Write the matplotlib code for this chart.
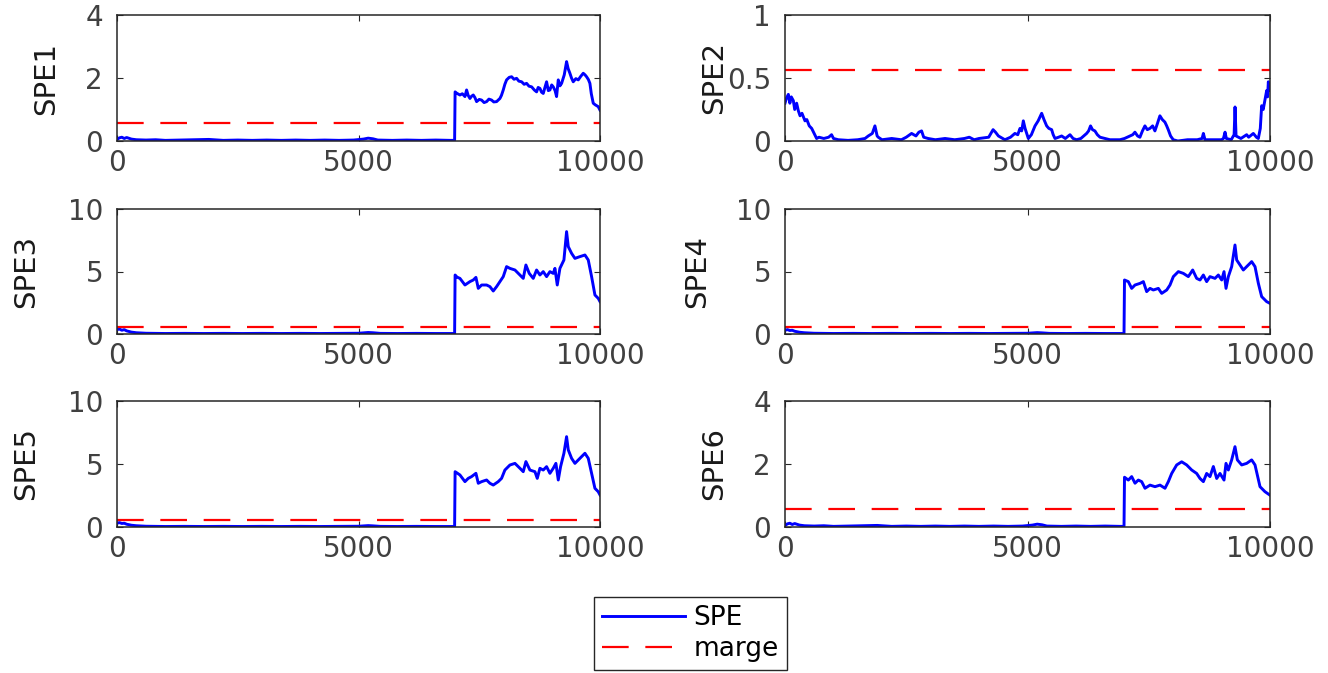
import numpy as np
import matplotlib
matplotlib.use('Agg')
import matplotlib.pyplot as plt

# SPE curves, (sample index, value)
spe1_t = [0, 50, 100, 150, 200, 300, 400, 600, 800, 1000, 1300, 1600, 1900, 2200, 2500, 2800,
          3100, 3400, 3700, 4000, 4300, 4600, 4900, 5100, 5200, 5300, 5400, 5700, 6000, 6300,
          6600, 6900, 6990,
          7000, 7030, 7100, 7150, 7204, 7238, 7270, 7307, 7340, 7376, 7410, 7445, 7500, 7548,
          7600, 7652, 7700, 7755, 7800, 7859, 7900, 7928, 7960, 7997, 8030, 8066, 8120, 8170,
          8220, 8273, 8320, 8377, 8430, 8480, 8530, 8584, 8640, 8687, 8720, 8756, 8790, 8825,
          8860, 8894, 8930, 8963, 9000, 9032, 9070, 9101, 9136, 9170, 9205, 9260, 9308, 9340,
          9377, 9410, 9446, 9500, 9550, 9600, 9653, 9690, 9722, 9760, 9791, 9820, 9860, 9900,
          9964, 10000]
spe1_v = [0.05, 0.10, 0.12, 0.08, 0.11, 0.06, 0.04, 0.03, 0.04, 0.02, 0.03, 0.04, 0.05, 0.02,
          0.03, 0.02, 0.03, 0.02, 0.03, 0.02, 0.03, 0.02, 0.03, 0.06, 0.09, 0.07, 0.03, 0.02,
          0.03, 0.02, 0.03, 0.02, 0.02,
          1.56, 1.52, 1.46, 1.50, 1.41, 1.62, 1.45, 1.35, 1.42, 1.46, 1.38, 1.25, 1.32, 1.30,
          1.22, 1.25, 1.33, 1.30, 1.24, 1.25, 1.31, 1.35, 1.45, 1.62, 1.80, 1.94, 2.02, 2.04,
          1.96, 1.99, 1.90, 1.88, 1.80, 1.83, 1.74, 1.72, 1.62, 1.56, 1.70, 1.67, 1.55, 1.51,
          1.70, 1.88, 1.60, 1.62, 1.78, 1.72, 1.60, 1.41, 1.94, 1.75, 1.83, 2.10, 2.52, 2.30,
          2.15, 2.00, 1.88, 1.98, 1.94, 2.05, 2.15, 2.10, 2.04, 1.95, 1.83, 1.50, 1.20, 1.15,
          1.09, 0.98]

spe2_t = [0, 30, 69, 100, 130, 172, 200, 240, 275, 310, 350, 412, 450, 500, 550, 600, 652,
          700, 800, 900, 960, 1000, 1100, 1300, 1500, 1650, 1717, 1800, 1854, 1900, 1923, 2000,
          2200, 2400, 2500, 2610, 2700, 2760, 2816, 2860, 2950, 3100, 3300, 3500, 3700, 3800,
          3900, 4000, 4200, 4290, 4340, 4400, 4534, 4650, 4740, 4800, 4845, 4880, 4914, 4950,
          5017, 5080, 5155, 5220, 5292, 5340, 5395, 5440, 5498, 5530, 5567, 5640, 5704, 5780,
          5876, 5940, 6013, 6100, 6219, 6260, 6300, 6340, 6390, 6440, 6495, 6600, 6700, 6906,
          7000, 7112, 7170, 7215, 7270, 7318, 7370, 7421, 7470, 7524, 7580, 7627, 7680, 7730,
          7780, 7833, 7870, 7902, 7950, 8005, 8100, 8300, 8500, 8600, 8626, 8660, 8800, 9000,
          9040, 9073, 9100, 9200, 9260, 9279, 9300, 9400, 9519, 9560, 9656, 9720, 9759, 9800,
          9828, 9860, 9897, 9931, 9950, 9966, 9985, 10000]
spe2_v = [0.30, 0.34, 0.37, 0.30, 0.35, 0.32, 0.25, 0.30, 0.24, 0.20, 0.22, 0.16, 0.17, 0.12,
          0.10, 0.06, 0.02, 0.03, 0.02, 0.03, 0.05, 0.02, 0.01, 0.005, 0.01, 0.02, 0.04, 0.06,
          0.12, 0.04, 0.03, 0.01, 0.02, 0.01, 0.03, 0.06, 0.04, 0.07, 0.08, 0.03, 0.02, 0.01,
          0.02, 0.01, 0.02, 0.03, 0.01, 0.02, 0.03, 0.09, 0.07, 0.04, 0.01, 0.03, 0.06, 0.05,
          0.10, 0.08, 0.16, 0.10, 0.02, 0.05, 0.12, 0.16, 0.22, 0.17, 0.12, 0.10, 0.09, 0.05,
          0.02, 0.03, 0.04, 0.02, 0.05, 0.02, 0.01, 0.02, 0.06, 0.08, 0.12, 0.09, 0.08, 0.05,
          0.03, 0.02, 0.01, 0.01, 0.02, 0.04, 0.05, 0.07, 0.04, 0.03, 0.08, 0.12, 0.09, 0.10,
          0.12, 0.08, 0.14, 0.20, 0.17, 0.15, 0.12, 0.09, 0.04, 0.01, 0.00, 0.01, 0.01, 0.02,
          0.06, 0.01, 0.01, 0.01, 0.02, 0.07, 0.02, 0.01, 0.05, 0.27, 0.04, 0.02, 0.05, 0.03,
          0.06, 0.03, 0.02, 0.10, 0.28, 0.25, 0.33, 0.40, 0.35, 0.47, 0.40, 0.45]

spe3_t = [0, 50, 100, 150, 200, 300, 400, 600, 800, 1000, 1400, 1800, 2200, 2600, 3000, 3400,
          3800, 4200, 4600, 5000, 5200, 5300, 5450, 5800, 6200, 6600, 6990,
          7000, 7040, 7100, 7204, 7307, 7376, 7431, 7480, 7549, 7652, 7721, 7790, 7859, 7928,
          7997, 8066, 8135, 8239, 8342, 8411, 8466, 8535, 8618, 8687, 8756, 8825, 8894, 8963,
          9032, 9067, 9115, 9170, 9253, 9308, 9343, 9412, 9481, 9584, 9688, 9757, 9826, 9895,
          9964, 10000]
spe3_v = [0.35, 0.40, 0.30, 0.35, 0.25, 0.15, 0.10, 0.06, 0.05, 0.04, 0.05, 0.04, 0.05, 0.04,
          0.05, 0.04, 0.05, 0.04, 0.05, 0.06, 0.12, 0.10, 0.05, 0.04, 0.05, 0.04, 0.04,
          4.72, 4.55, 4.45, 3.92, 4.19, 4.32, 4.53, 3.65, 3.92, 3.92, 3.79, 3.44, 3.79, 4.19,
          4.59, 5.39, 5.25, 5.12, 4.72, 4.45, 5.52, 4.85, 4.45, 5.12, 4.72, 4.99, 4.59, 4.99,
          4.85, 5.25, 3.92, 5.25, 5.92, 8.19, 6.99, 6.45, 6.05, 6.19, 6.32, 5.92, 4.59, 3.12,
          2.85, 2.59]

spe4_t = [0, 50, 100, 150, 200, 300, 400, 600, 800, 1000, 1400, 1800, 2200, 2600, 3000, 3400,
          3800, 4200, 4600, 5000, 5200, 5300, 5450, 5800, 6200, 6600, 6990,
          7000, 7079, 7148, 7217, 7320, 7389, 7457, 7526, 7595, 7698, 7767, 7870, 7938, 8007,
          8110, 8213, 8316, 8406, 8488, 8557, 8626, 8694, 8763, 8866, 8935, 9004, 9052, 9093,
          9141, 9210, 9278, 9313, 9382, 9450, 9519, 9622, 9691, 9760, 9828, 9931, 10000]
spe4_v = [0.30, 0.35, 0.28, 0.30, 0.22, 0.14, 0.10, 0.06, 0.05, 0.04, 0.05, 0.04, 0.05, 0.04,
          0.05, 0.04, 0.05, 0.04, 0.05, 0.06, 0.11, 0.09, 0.05, 0.04, 0.05, 0.04, 0.04,
          4.32, 4.19, 3.65, 3.92, 4.05, 4.19, 3.39, 3.65, 3.52, 3.65, 3.25, 3.52, 3.92, 4.59,
          4.99, 4.85, 4.59, 5.12, 4.45, 4.32, 4.72, 4.19, 4.59, 4.45, 4.72, 4.32, 4.99, 3.65,
          4.59, 5.39, 7.12, 5.92, 5.52, 5.12, 5.39, 5.79, 5.39, 4.05, 2.99, 2.59, 2.45]

spe5_t = [0, 50, 100, 150, 200, 300, 400, 600, 800, 1000, 1400, 1800, 2200, 2600, 3000, 3400,
          3800, 4200, 4600, 5000, 5200, 5300, 5450, 5800, 6200, 6600, 6990,
          7000, 7100, 7204, 7272, 7341, 7431, 7480, 7549, 7652, 7721, 7790, 7893, 7962, 8031,
          8135, 8239, 8342, 8411, 8466, 8549, 8653, 8701, 8756, 8825, 8894, 8963, 9032, 9087,
          9136, 9184, 9253, 9308, 9343, 9412, 9481, 9584, 9688, 9757, 9826, 9895, 9964, 10000]
spe5_v = [0.30, 0.35, 0.28, 0.30, 0.22, 0.14, 0.10, 0.06, 0.05, 0.04, 0.05, 0.04, 0.05, 0.04,
          0.05, 0.04, 0.05, 0.04, 0.05, 0.06, 0.11, 0.09, 0.05, 0.04, 0.05, 0.04, 0.04,
          4.39, 4.13, 3.60, 3.86, 4.00, 4.26, 3.47, 3.60, 3.73, 3.47, 3.33, 3.60, 3.86, 4.52,
          4.92, 5.05, 4.66, 4.39, 5.19, 4.52, 4.39, 3.86, 4.66, 4.52, 4.79, 4.26, 4.66, 5.05,
          3.73, 4.79, 5.85, 7.17, 6.12, 5.45, 5.05, 5.45, 5.85, 5.45, 4.26, 3.07, 2.80, 2.54]

spe6_t = [0, 50, 100, 150, 200, 300, 400, 600, 800, 1000, 1300, 1600, 1900, 2200, 2500, 2800,
          3100, 3400, 3700, 4000, 4300, 4600, 4900, 5100, 5200, 5300, 5400, 5700, 6000, 6300,
          6600, 6900, 6990,
          7000, 7079, 7148, 7217, 7285, 7354, 7423, 7526, 7629, 7732, 7835, 7904, 7973, 8076,
          8179, 8282, 8385, 8488, 8557, 8626, 8694, 8763, 8832, 8901, 8969, 9052, 9093, 9141,
          9210, 9278, 9327, 9416, 9519, 9622, 9691, 9794, 9897, 10000]
spe6_v = [0.05, 0.10, 0.12, 0.08, 0.11, 0.06, 0.04, 0.03, 0.04, 0.02, 0.03, 0.04, 0.05, 0.02,
          0.03, 0.02, 0.03, 0.02, 0.03, 0.02, 0.03, 0.02, 0.03, 0.06, 0.09, 0.07, 0.03, 0.02,
          0.03, 0.02, 0.03, 0.02, 0.02,
          1.58, 1.49, 1.60, 1.39, 1.49, 1.44, 1.23, 1.33, 1.28, 1.33, 1.23, 1.44, 1.70, 1.97,
          2.07, 1.97, 1.81, 1.70, 1.54, 1.44, 1.70, 1.60, 1.92, 1.54, 1.70, 1.49, 2.02, 1.81,
          2.13, 2.55, 2.13, 1.97, 2.02, 2.13, 1.97, 1.28, 1.12, 1.01]

marge = [0.56, 0.56, 0.56, 0.56, 0.56, 0.56]
labels = ['SPE1', 'SPE2', 'SPE3', 'SPE4', 'SPE5', 'SPE6']
yticks = [[0, 2, 4], [0, 0.5, 1], [0, 5, 10], [0, 5, 10], [0, 5, 10], [0, 2, 4]]
ytick_text = [['0', '2', '4'], ['0', '0.5', '1'], ['0', '5', '10'], ['0', '5', '10'],
              ['0', '5', '10'], ['0', '2', '4']]

series = [(spe1_t, spe1_v), (spe2_t, spe2_v), (spe3_t, spe3_v),
          (spe4_t, spe4_v), (spe5_t, spe5_v), (spe6_t, spe6_v)]

W, H = 1328, 673
# axes boxes in pixels: left, top, right, bottom
boxes = [(117, 15, 600, 141), (785, 15, 1270, 141),
         (117, 209, 600, 334), (785, 209, 1270, 334),
         (117, 401, 600, 527), (785, 401, 1270, 527)]
label_x = [-0.118, -0.118, -0.159, -0.153, -0.159, -0.118]

gray = '#262626'
fig = plt.figure(figsize=(W / 100, H / 100), dpi=100)

for i in range(6):
    l, t, r, b = boxes[i]
    ax = fig.add_axes([l / W, 1 - b / H, (r - l) / W, (b - t) / H])
    x, y = series[i]
    h1, = ax.plot(x, y, color='blue', lw=2.1)
    h2, = ax.plot([0, 10000], [marge[i], marge[i]], color='red', lw=1.6,
                  dashes=(12, 7.5))
    ax.set_xlim(0, 10000)
    ax.set_ylim(yticks[i][0], yticks[i][-1])
    ax.set_xticks([0, 5000, 10000])
    ax.set_yticks(yticks[i])
    ax.set_yticklabels(ytick_text[i])
    ax.tick_params(direction='in', length=4, width=0.8, top=True, right=True,
                   labelsize=20, labelcolor='#404040', color=gray)
    ax.tick_params(axis='y', pad=10)
    ax.tick_params(axis='x', pad=6)
    for s in ax.spines.values():
        s.set_color(gray)
        s.set_linewidth(1.1)
    ax.set_ylabel(labels[i], fontsize=21, color='#1a1a1a')
    ax.yaxis.set_label_coords(label_x[i], 0.5)

leg = fig.legend([h1, h2], ['SPE', 'marge'], loc='center',
                 bbox_to_anchor=(690.5 / W, 1 - 633.5 / H), fontsize=19,
                 handlelength=3.15, handletextpad=0.3, labelspacing=0.2,
                 borderpad=0.3, fancybox=False, framealpha=1)
leg.get_frame().set_edgecolor(gray)
leg.get_frame().set_linewidth(1.0)

fig.savefig('out.png', dpi=100)
